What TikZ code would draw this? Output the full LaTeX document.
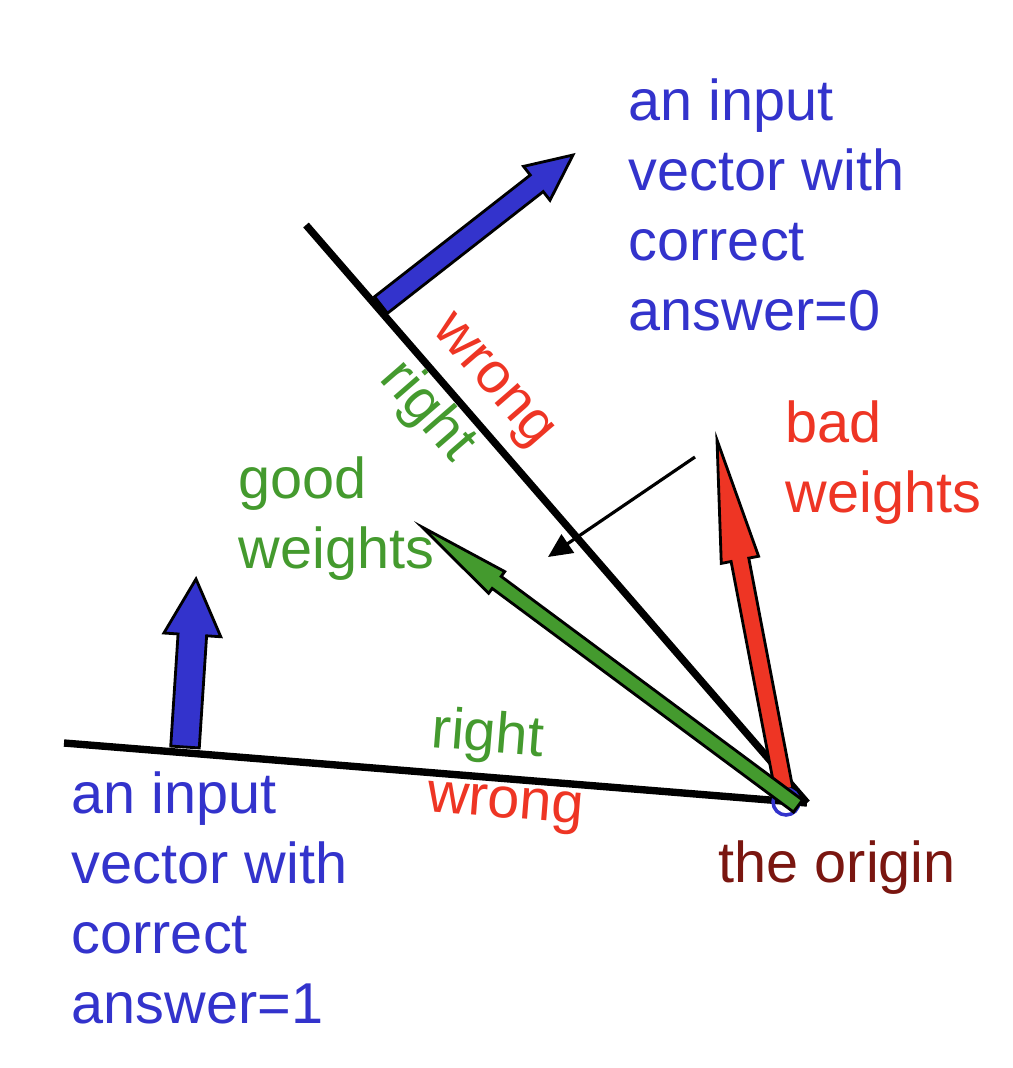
\documentclass[tikz,border=0pt]{standalone}
\usepackage{fontspec}
\setmainfont{Liberation Sans}
\usetikzlibrary{arrows.meta, calc}
\definecolor{cblue}{HTML}{3333CC}
\definecolor{cred}{HTML}{EE3524}
\definecolor{cgreen}{HTML}{449A2E}
\definecolor{cbrown}{HTML}{7A1610}
\tikzset{
  every picture/.style={font=\fontsize{16.4pt}{19.9pt}\selectfont},
  txt/.style={align=left, anchor=base west, inner sep=0pt, text=#1},
  txt/.default=cblue,
  tag/.style={inner sep=0pt, text=#1},
  plane/.style={line width=2.1pt},
  block/.style={draw=black, line width=0.8pt, line join=miter},
  pointer/.style={-{Triangle[length=2.4mm, width=2.2mm]}, line width=0.9pt},
}
\newcommand{\blockarrow}[6]{%
  \coordinate (neck) at ($(#2)!#6!(#1)$);
  \filldraw[block, fill=#3] ($(#1)!#4!90:(#2)$) -- ($(neck)!#4!90:(#2)$) -- ($(neck)!#5!90:(#2)$) -- (#2)
    -- ($(neck)!#5!-90:(#2)$) -- ($(neck)!#4!-90:(#2)$) -- ($(#1)!#4!-90:(#2)$) -- cycle;}
\begin{document}
\begin{tikzpicture}
  \useasboundingbox (0,0) rectangle (10.12,-10.68);
  \coordinate (origin) at (8.07,-8.03);
  \coordinate (top end) at (3.06,-2.25);
  \coordinate (left end) at (0.64,-7.43);
  \coordinate (in0 foot) at (3.81,-3.05);
  \coordinate (in0 tip) at (5.73,-1.55);
  \coordinate (in1 foot) at (1.85,-7.47);
  \coordinate (in1 tip) at (1.96,-5.79);
  \coordinate (bad foot) at (7.84,-7.90);
  \coordinate (bad tip) at (7.17,-4.40);
  \coordinate (good foot) at (7.98,-8.06);
  \coordinate (good tip) at (4.22,-5.27);
  \coordinate (move from) at (6.95,-4.57);
  \coordinate (move to) at (5.48,-5.57);
  \blockarrow{in0 foot}{in0 tip}{cblue}{0.105cm}{0.215cm}{0.46cm}
  \blockarrow{in1 foot}{in1 tip}{cblue}{0.143cm}{0.285cm}{0.56cm}
  \draw[plane] (top end) -- (origin);
  \draw[plane] (left end) -- (origin);
  \blockarrow{bad foot}{bad tip}{cred}{0.09cm}{0.19cm}{1.22cm}
  \draw[cblue, line width=1pt] (7.86,-8.02) circle (0.13);
  \blockarrow{good foot}{good tip}{cgreen}{0.075cm}{0.135cm}{0.93cm}
  \draw[pointer] (move from) -- (move to);
  \node[txt] (in0 text) at (6.28,-3.30) {an input\\vector with\\correct\\answer=0};
  \node[txt] (in1 text) at (0.71,-10.23) {an input\\vector with\\correct\\answer=1};
  \node[txt=cred] (bad text) at (7.85,-5.12) {bad\\weights};
  \node[txt=cgreen] (good text) at (2.38,-5.68) {good\\weights};
  \node[txt=cbrown] (origin text) at (7.18,-8.82) {the origin};
  \node[tag=cred, rotate=-49] (wrong0) at (4.90,-3.83) {wrong};
  \node[tag=cgreen, rotate=-49] (right0) at (4.27,-4.12) {right};
  \node[tag=cgreen, rotate=-4.6] (right1) at (4.88,-7.37) {right};
  \node[tag=cred, rotate=-4.6] (wrong1) at (5.05,-8.08) {wrong};
\end{tikzpicture}
\end{document}
